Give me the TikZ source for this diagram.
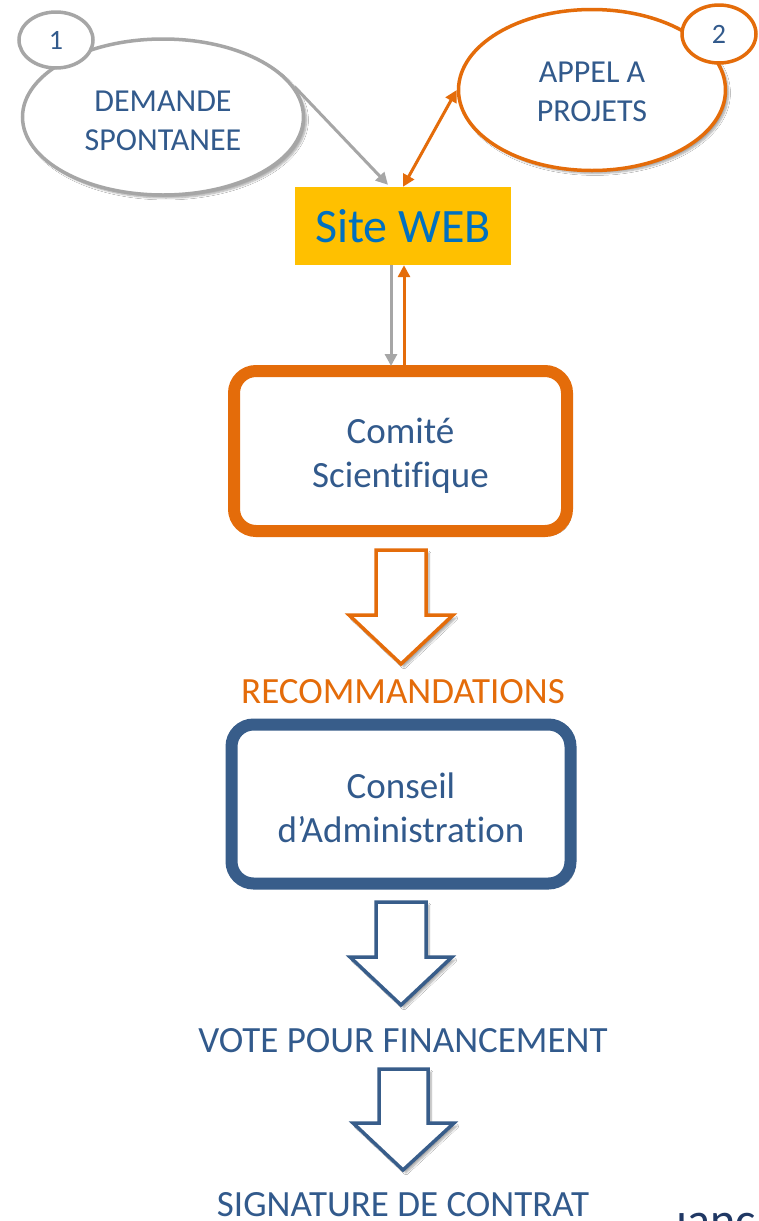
\documentclass[tikz,border=0pt]{standalone}
\usepackage{fontspec}
\setmainfont{Carlito}[Ligatures=NoCommon]
\usetikzlibrary{shapes.geometric,arrows.meta,calc,shadows.blur}
\definecolor{orng}{RGB}{228,108,10}
\definecolor{gry}{RGB}{166,166,166}
\definecolor{bblue}{RGB}{56,93,138}
\definecolor{tblue}{RGB}{50,90,140}
\definecolor{sitey}{RGB}{255,192,0}
\definecolor{sitet}{RGB}{0,112,192}
\definecolor{navy}{RGB}{32,56,100}
\newcommand{\dnstrut}[1]{\rule{0pt}{#1}}
\tikzset{
  shd/.style={blur shadow={shadow xshift=3pt,shadow yshift=-3pt,shadow opacity=35,shadow blur steps=6}},
  bubble/.style={ellipse,draw,fill=white,line width=3.5pt,inner sep=0pt,align=center,text=tblue,
     font=\fontsize{32}{39}\selectfont,shd},
  numbub/.style={ellipse,draw,fill=white,line width=3.5pt,inner sep=0pt,text=tblue,
     font=\fontsize{28}{34}\selectfont},
  bigbox/.style={rectangle,rounded corners=22pt,draw,fill=white,line width=12pt,inner sep=0pt,
     align=center,text=tblue,font=\fontsize{37}{44}\selectfont,shd},
  lbl/.style={font=\fontsize{37}{44}\selectfont,inner sep=0pt,anchor=base},
  hollow/.style={line width=3.5pt,fill=white,line join=miter,shd},
  conn/.style={line width=3pt,-{Triangle[length=12pt,width=12pt]}},
}
\begin{document}
\begin{tikzpicture}[x=1pt,y=-1pt]
\clip (0,0) rectangle (759,1221);
\fill[white] (0,0) rectangle (759,1221);

% top bubbles
\node[bubble,draw=gry,minimum width=281pt,minimum height=156pt] (dem) at (163,117) {\dnstrut{29pt}DEMANDE\\SPONTANEE};
\node[numbub,draw=gry,minimum width=74pt,minimum height=56pt] (n1) at (56,40) {1};
\node[bubble,draw=orng,minimum width=267pt,minimum height=161pt] (app) at (592,90) {\dnstrut{25pt}APPEL A\\PROJETS};
\node[numbub,draw=orng,minimum width=74pt,minimum height=58pt] (n2) at (719,34) {2};

% site web
\node[rectangle,fill=sitey,minimum width=216pt,minimum height=78pt,inner sep=0pt,
      text=sitet,font=\fontsize{48}{56}\selectfont] (site) at (403,226) {Site WEB};

% comite
\node[bigbox,draw=orng,minimum width=333pt,minimum height=160pt] (com) at (400.5,451) {\dnstrut{35pt}Comité\\Scientifique};

% connectors top
\draw[conn,gry] (dem.13) -- ($(site.north)+(-15,-2)$);
\draw[line width=3pt,orng,{Triangle[length=12pt,width=12pt]}-{Triangle[length=12pt,width=12pt]}] (site.north) -- (app.west);
\draw[conn,gry] ($(site.south)+(-12,0)$) -- ($(com.north)+(-9.5,1)$);
\draw[conn,orng] ($(com.north)+(3.5,1)$) -- ($(site.south)+(1,0)$);

% orange hollow arrow
\draw[hollow,draw=orng] (376,550) -- (426,550) -- (426,615) -- (453,615) -- (401,664) -- (349,615) -- (376,615) -- cycle;
\node[lbl,text=orng] (rec) at (403,703) {RECOMMANDATIONS};

% conseil
\node[bigbox,draw=bblue,minimum width=339pt,minimum height=159pt] (cons) at (401,804) {\dnstrut{33pt}Conseil\\d’Administration};

% blue hollow arrows
\draw[hollow,draw=bblue] (376,902) -- (426,902) -- (426,957) -- (452,957) -- (401,1005) -- (350,957) -- (376,957) -- cycle;
\node[lbl,text=tblue] (vote) at (403,1052) {VOTE POUR FINANCEMENT};
\draw[hollow,draw=bblue] (379,1069) -- (428,1069) -- (428,1123) -- (454,1123) -- (403,1170) -- (353,1123) -- (379,1123) -- cycle;
\node[lbl,text=tblue] (sig) at (403,1216) {SIGNATURE DE CONTRAT};

% cut-off text at bottom right
\node[anchor=base west,inner sep=0pt,text=navy,font=\fontsize{48}{56}\selectfont] (cut) at (676,1236) {ıanc};
\end{tikzpicture}
\end{document}
